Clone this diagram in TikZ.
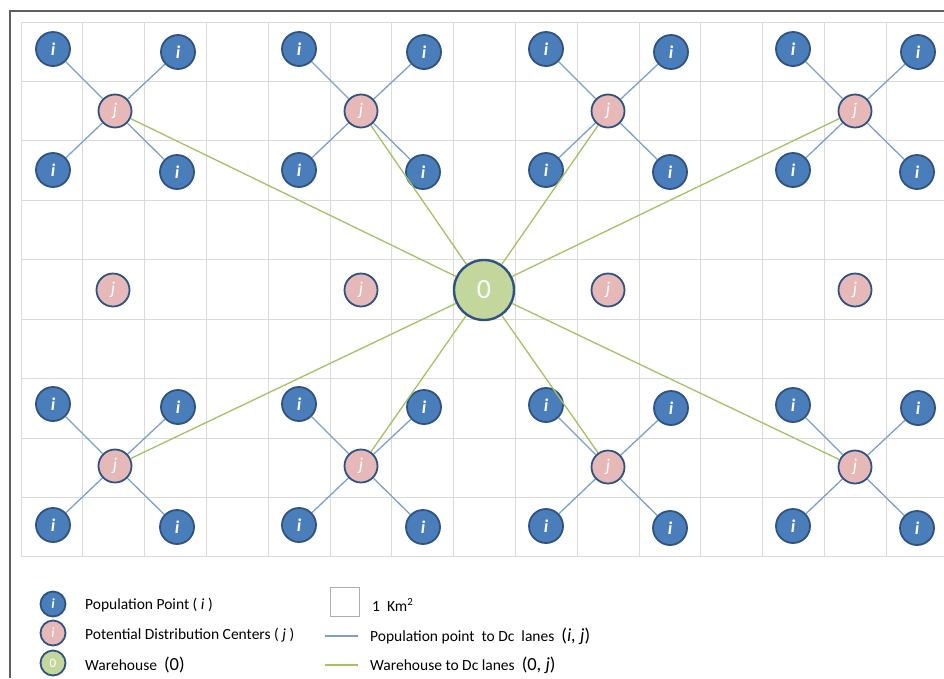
\documentclass[tikz,border=0pt]{standalone}
\usepackage{fontspec}
\setmainfont{Carlito}
\definecolor{ifill}{HTML}{4A7EBB}
\definecolor{bordc}{HTML}{2F5283}
\definecolor{jfill}{HTML}{E6B9B8}
\definecolor{wfill}{HTML}{C3D69B}
\definecolor{popc}{HTML}{7BA0CD}
\definecolor{whc}{HTML}{A4C263}
\definecolor{gridc}{HTML}{DADADA}
\definecolor{framec}{HTML}{5F5F5F}
\begin{document}
\begin{tikzpicture}[x=1pt,y=-1pt,
  inode/.style={circle,draw=bordc,line width=1.8pt,fill=ifill,minimum size=34pt,inner sep=0pt,text=white,font=\fontsize{18}{18}\selectfont\bfseries\itshape},
  jnode/.style={inode,fill=jfill,minimum size=33pt,font=\fontsize{18}{18}\selectfont\itshape},
  wnode/.style={circle,draw=bordc,line width=2.4pt,fill=wfill,minimum size=60pt,inner sep=0pt,text=white,font=\fontsize{28}{28}\selectfont},
  leginode/.style={inode,minimum size=25pt,font=\fontsize{14}{14}\selectfont\bfseries\itshape},
  legjnode/.style={leginode,fill=jfill,font=\fontsize{14}{14}\selectfont\itshape},
  legwnode/.style={leginode,fill=wfill,font=\fontsize{13}{13}\selectfont},
  popline/.style={draw=popc,line width=1.3pt},
  whline/.style={draw=whc,line width=1.3pt},
  gridline/.style={draw=gridc,line width=1pt},
  legtext/.style={anchor=west,inner sep=0pt,font=\fontsize{15.5}{17}\selectfont},
  sqnode/.style={draw=gridc!80!black,line width=0.8pt,minimum size=29pt,inner sep=0pt}]
\useasboundingbox (0,0) rectangle (944,678);
\fill[white] (0,0) rectangle (944,678);
% grid
\foreach \k in {0,...,14}{
  \draw[gridline] ({21+61.8*\k},22) -- ({21+61.8*\k},557);
}
\foreach \k in {0,...,9}{
  \draw[gridline] (21,{22+59.44*\k}) -- (944,{22+59.44*\k});
}
% frame
\draw[framec,line width=2pt] (944,11) -- (10,11) -- (10,678);
% warehouse
\node[wnode] (w) at (484,290) {0};
% clusters
\foreach \k/\cx/\cy in {1/115/111,2/361/111,3/608/111,4/855/111,5/115/466,6/361/466,7/608/467,8/855/467}{
  \node[jnode] (j\k) at (\cx,\cy) {j};
  \node[inode] (i\k a) at (\cx-62,\cy-62) {i};
  \node[inode] (i\k b) at (\cx+63,\cy-59) {i};
  \node[inode] (i\k c) at (\cx-62,\cy+59) {i};
  \node[inode] (i\k d) at (\cx+62,\cy+61) {i};
  \draw[popline] (j\k) -- (i\k a);
  \draw[popline] (j\k) -- (i\k b);
  \draw[popline] (j\k) -- (i\k c);
  \draw[popline] (j\k) -- (i\k d);
  \draw[whline] (w) -- (j\k);
}
% middle candidate centres
\node[jnode] (m1) at (113,290) {j};
\node[jnode] (m2) at (361,290) {j};
\node[jnode] (m3) at (608,290) {j};
\node[jnode] (m4) at (855,290) {j};
% legend
\node[leginode] (li) at (53,604) {i};
\node[legjnode] (lj) at (53,633) {i};
\node[legwnode] (lw) at (53,663) {0};
\node[legtext] (lt1) at (85,605) {Population Point ( \textit{i} )};
\node[legtext] (lt2) at (85,635) {Potential Distribution Centers ( \textit{j} )};
\node[legtext] (lt3) at (85,665) {Warehouse\ \ {\fontsize{18.5}{19}\selectfont (0)}};
\node[sqnode] (sq) at (345,602) {};
\node[legtext] (lt4) at (372,605) {1\ \ Km\textsuperscript{2}};
\coordinate (pa) at (325,636);
\coordinate (pb) at (358,636);
\draw[popline,line width=2pt] (pa) -- (pb);
\node[legtext] (lt5) at (370,636) {Population point\ \ to Dc\ \ lanes\ \ {\fontsize{18.5}{19}\selectfont (\textit{i, j})}};
\coordinate (ga) at (325,665);
\coordinate (gb) at (358,665);
\draw[whline,line width=2pt] (ga) -- (gb);
\node[legtext] (lt6) at (370,665) {Warehouse to Dc lanes\ \ {\fontsize{18.5}{19}\selectfont (0, \textit{j})}};
\end{tikzpicture}
\end{document}
